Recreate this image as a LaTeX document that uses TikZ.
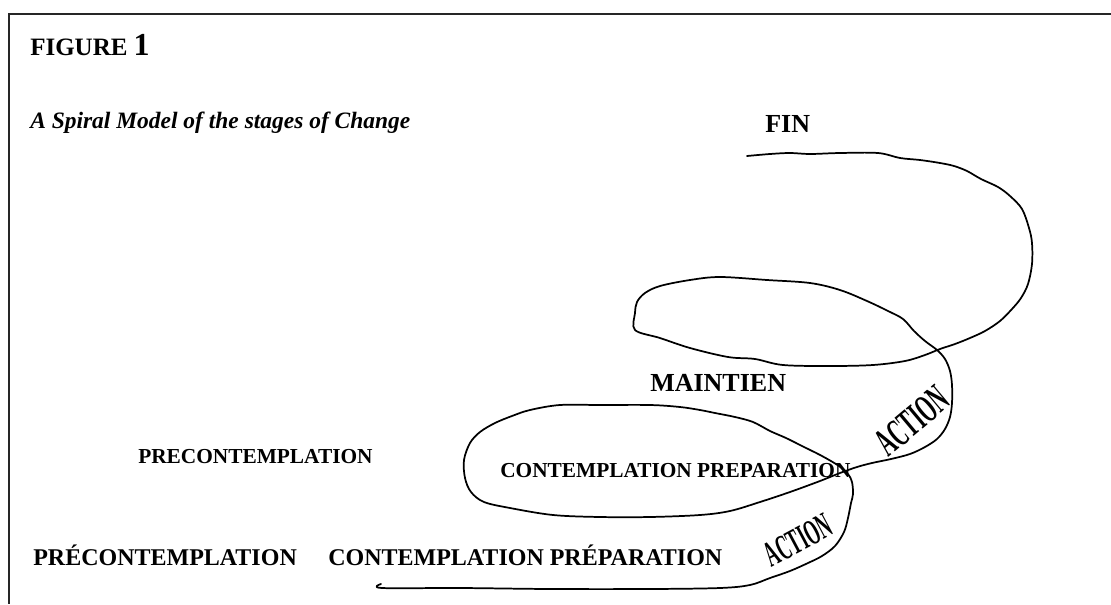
\documentclass[tikz,border=0pt]{standalone}
\usepackage{fontspec}
\setmainfont{Liberation Serif}
\begin{document}
\begin{tikzpicture}[x=0.75pt,y=-0.75pt,
  frameline/.style={line width=1.5pt,black!85},
  spiralline/.style={line width=1.3pt,black,line join=round,line cap=round},
  lbl/.style={anchor=base west,inner sep=0pt,font=#1\bfseries},
  wordart/.style={inner sep=0pt,font=\fontsize{#1}{#1}\selectfont\bfseries}]
\useasboundingbox (0,0) rectangle (1111,604);

% frame: top and left edges
\draw[frameline] (1111,14) -- (9,14) -- (9,604);

% headings
\node[lbl=\fontsize{18.75}{22}\selectfont] (fig) at (30,55) {FIGURE \fontsize{24}{26}\selectfont 1};
\node[lbl=\fontsize{17.6}{21}\selectfont\itshape] (title) at (30,128) {A Spiral Model of the stages of Change};

% spiral of the stages
\draw[spiralline] plot[smooth,tension=0.55] coordinates {
 (381,584) (382,588) (460,588) (550,589) (650,589) (720,588) (750,585)
 (770,578) (790,571) (808,563) (822,556) (835,546) (844,532) (848,518)
 (851,503) (853,494) (852,482) (848,474) (839,466) (822,456) (802,446)
 (786,438) (770,431) (753,422) (735,417) (715,413) (700,410) (680,407)
 (650,405) (600,405) (560,405) (530,410) (512,416) (495,423) (480,432)
 (470,443) (464,460) (465,478) (471,492) (484,502) (510,508) (553,515)
 (600,517) (650,517) (700,515) (730,511) (760,502) (790,492) (820,481)
 (840,473) (857,467) (872,463) (891,459) (910,454) (925,447) (937,439)
 (945,429) (950,417) (952,403) (952,385) (950,371) (945,359) (937,350)
 (925,341) (914,331) (903,319) (888,311) (867,301) (840,290) (810,283)
 (767,280) (720,277) (690,280) (660,286) (645,293) (637,302) (635,313)
 (635,330) (660,338) (690,348) (728,357) (755,359) (783,365) (830,366)
 (873,365) (905,361) (925,355) (940,349) (955,344) (970,338) (985,331)
 (1000,321) (1012,309) (1021,298) (1028,284) (1032,264) (1032,243)
 (1029,228) (1022,209) (1010,196) (998,187) (981,179) (967,171) (954,166)
 (940,163) (920,160) (900,158) (878,153) (840,153) (810,154) (790,153)
 (770,154) (747,156)};

% stage labels
\node[lbl=\fontsize{19.5}{22}\selectfont] (fin) at (765,132) {FIN};
\node[lbl=\fontsize{19.5}{22}\selectfont] (maint) at (650,391) {MAINTIEN};
\node[lbl=\fontsize{16}{18}\selectfont] (precA) at (138,463) {PRECONTEMPLATION};
\node[lbl=\fontsize{16}{18}\selectfont] (contA) at (500,477) {CONTEMPLATION PREPARATION};
\node[lbl=\fontsize{18}{20}\selectfont] (precB) at (33,565) {PRÉCONTEMPLATION};
\node[lbl=\fontsize{18}{20}\selectfont] (contB) at (328,565) {CONTEMPLATION PRÉPARATION};

% curved ACTION lettering
\node[wordart=30, rotate=40, xscale=0.52] (actA) at (912,421) {ACTION};
\node[wordart=27, rotate=28, xscale=0.5] (actB) at (798,540) {ACTION};
\end{tikzpicture}
\end{document}
